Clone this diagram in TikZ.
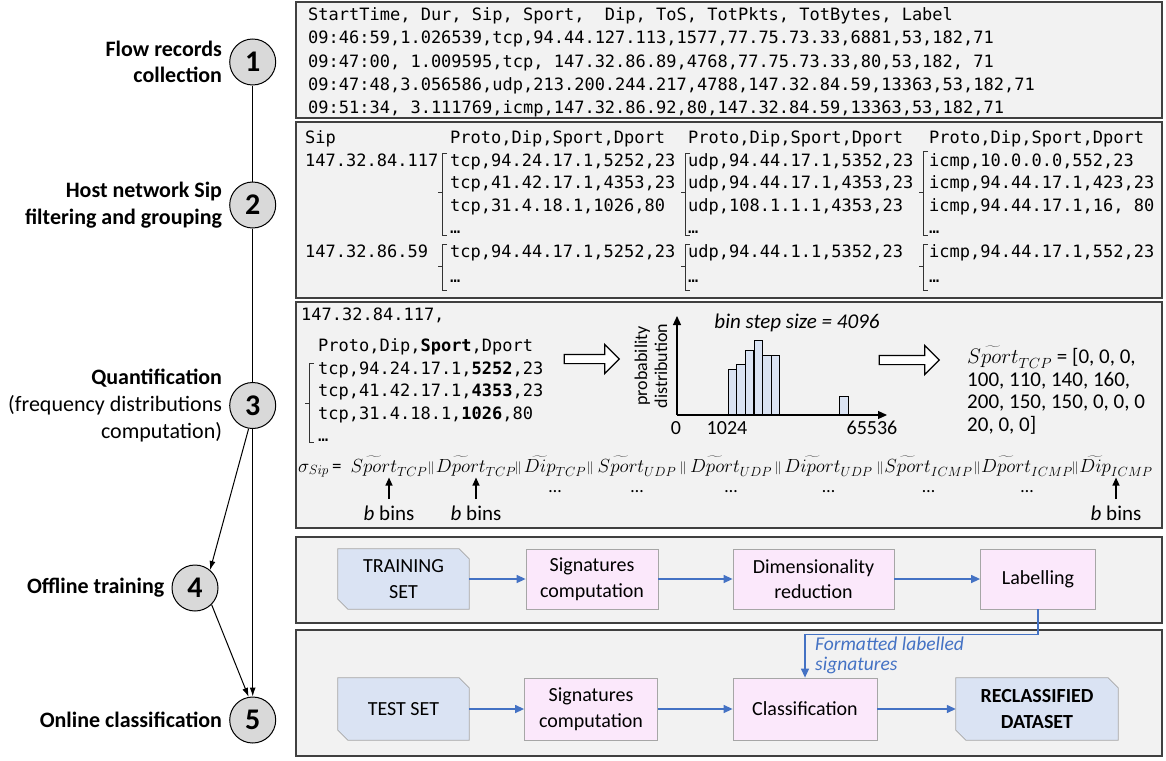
\RequirePackage{fix-cm}
\documentclass[tikz,border=0pt]{standalone}
\usepackage{fontspec}
\setmainfont{Carlito}
\newfontfamily\consfont{DejaVu Sans Mono}
\usetikzlibrary{positioning,arrows.meta,shapes.arrows,calc}
\pgfdeclarelayer{bg}
\pgfsetlayers{bg,main}
\definecolor{panelbg}{HTML}{F2F2F2}
\definecolor{paneledge}{HTML}{404040}
\definecolor{circfill}{HTML}{D9D9D9}
\definecolor{setfill}{HTML}{DAE3F3}
\definecolor{procfill}{HTML}{FBE8FB}
\definecolor{boxedge}{HTML}{A6A6A6}
\definecolor{flowblue}{HTML}{4472C4}
\tikzset{
  panel/.style={draw=paneledge, line width=1.6pt, fill=panelbg},
  stagecirc/.style={circle, draw, line width=1pt, fill=circfill, minimum size=46pt, inner sep=0pt, font=\fontsize{30}{30}\selectfont\bfseries},
  stagelabel/.style={align=right, inner sep=0pt, font=\fontsize{22}{26.7}\selectfont\bfseries},
  stageline/.style={line width=1pt, -{Latex[length=9pt,width=6pt]}},
  mono/.style={font=\consfont\fontsize{17}{20}\selectfont, inner sep=0pt, anchor=base west},
  brk/.style={line width=0.9pt, black!80},
  bar/.style={draw, line width=0.9pt, fill=setfill},
  axis/.style={line width=1.2pt, -{Triangle[length=9pt,width=8pt]}},
  hollow/.style={single arrow, draw, line width=1.2pt, fill=white, inner sep=4pt, single arrow head extend=10pt, minimum height=#1},
  axlab/.style={font=\fontsize{20}{20}\selectfont, inner sep=0pt, anchor=base},
  term/.style={font=\fontsize{19}{20}\selectfont, inner sep=0pt, anchor=base},
  dots/.style={font=\fontsize{18}{18}\selectfont, inner sep=0pt},
  bins/.style={font=\fontsize{21}{22}\selectfont, inner sep=1pt, anchor=base},
  binarrow/.style={line width=1.2pt, shorten <=5pt, shorten >=1pt, -{Triangle[length=8pt,width=7pt]}},
  setbox/.style={minimum width=131pt, align=center, inner sep=0pt, font=\fontsize{20}{25.6}\selectfont},
  procbox/.style={draw=boxedge, fill=procfill, line width=0.8pt, align=center, inner sep=0pt, font=\fontsize{20}{25.6}\selectfont},
  card/.style={draw=boxedge, fill=setfill, line width=0.8pt},
  flow/.style={flowblue, line width=1.3pt, -{Triangle[length=9pt,width=8pt]}},
  fbtext/.style={flowblue, align=left, inner sep=0pt, font=\fontsize{19.5}{20}\selectfont\itshape},
}
\newcommand{\groupbrace}[4]{\draw[brk] ({#1+5},#2) -- (#1,#2) -- (#1,#4) -- ({#1+5},#4) (#1,#3) -- ({#1-4},#3);}

\begin{document}
\begin{tikzpicture}[x=1pt,y=-1pt]
\useasboundingbox (0,0) rectangle (1166,760);

\begin{pgfonlayer}{bg}
  \filldraw[panel] (296,2) rectangle (1162,118);
  \filldraw[panel] (296,122) rectangle (1162,298);
  \filldraw[panel] (296,302) rectangle (1162,528);
  \filldraw[panel] (296,537) rectangle (1162,623);
  \filldraw[panel] (296,630) rectangle (1162,756);
\end{pgfonlayer}

\node[stagecirc] (c1) at (252.7,62) {1};
\node[stagecirc] (c2) at (252.7,205) {2};
\node[stagecirc] (c3) at (252.7,405.5) {3};
\node[stagecirc] (c4) at (195,588) {4};
\node[stagecirc] (c5) at (252.7,720) {5};
\node[stagelabel, left=7pt of c1] (l1) {Flow records\\collection};
\node[stagelabel, left=7pt of c2] (l2) {Host network Sip\\filtering and grouping};
\node[stagelabel, left=7pt of c3, font=\fontsize{22}{26.7}\selectfont] (l3) {\textbf{Quantification}\\(frequency distributions\\computation)};
\node[stagelabel, left=7pt of c4] (l4) {Offline training};
\node[stagelabel, left=7pt of c5] (l5) {Online classification};
\draw[line width=1pt] (c1) -- (c2);
\draw[line width=1pt] (c2) -- (c3);
\draw[stageline] (c3) -- (c5);
\draw[stageline] (c3.260) -- (c4.50);
\draw[stageline] (c4.-45) -- (c5.100);

\foreach \t [count=\i] in {{StartTime, Dur, Sip, Sport,~ Dip, ToS, TotPkts, TotBytes, Label},
  {09:46:59,1.026539,tcp,94.44.127.113,1577,77.75.73.33,6881,53,182,71},
  {09:47:00, 1.009595,tcp, 147.32.86.89,4768,77.75.73.33,80,53,182, 71},
  {09:47:48,3.056586,udp,213.200.244.217,4788,147.32.84.59,13363,53,182,71},
  {09:51:34, 3.111769,icmp,147.32.86.92,80,147.32.84.59,13363,53,182,71}}
  \node[mono] (rec\i) at (308,{21+23*(\i-1)}) {\t};

\node[mono] (siphd) at (305,143) {Sip};
\node[mono] (sip1) at (305,166) {147.32.84.117};
\node[mono] (sip2) at (305,257) {147.32.86.59};
\node[mono] (tcphd) at (450,143) {Proto,Dip,Sport,Dport};
\node[mono] (tcp1) at (450,166) {tcp,94.24.17.1,5252,23};
\node[mono] (tcp2) at (450,188.5) {tcp,41.42.17.1,4353,23};
\node[mono] (tcp3) at (450,211) {tcp,31.4.18.1,1026,80};
\node[mono] (tcp4) at (450,233) {…};
\node[mono] (tcp5) at (450,257) {tcp,94.44.17.1,5252,23};
\node[mono] (tcp6) at (450,282) {…};
\node[mono] (udphd) at (688,143) {Proto,Dip,Sport,Dport};
\node[mono] (udp1) at (688,166) {udp,94.44.17.1,5352,23};
\node[mono] (udp2) at (688,188.5) {udp,94.44.17.1,4353,23};
\node[mono] (udp3) at (688,211) {udp,108.1.1.1,4353,23};
\node[mono] (udp4) at (688,233) {…};
\node[mono] (udp5) at (688,257) {udp,94.44.1.1,5352,23};
\node[mono] (udp6) at (688,282) {…};
\node[mono] (icmphd) at (929,143) {Proto,Dip,Sport,Dport};
\node[mono] (icmp1) at (929,166) {icmp,10.0.0.0,552,23};
\node[mono] (icmp2) at (929,188.5) {icmp,94.44.17.1,423,23};
\node[mono] (icmp3) at (929,211) {icmp,94.44.17.1,16, 80};
\node[mono] (icmp4) at (929,233) {…};
\node[mono] (icmp5) at (929,257) {icmp,94.44.17.1,552,23};
\node[mono] (icmp6) at (929,282) {…};
\groupbrace{442}{153}{192}{235}
\groupbrace{442}{244}{266}{290}
\groupbrace{685}{153}{192}{235}
\groupbrace{685}{244}{266}{290}
\groupbrace{923}{151}{192}{235}
\groupbrace{923}{244}{266}{290}

\node[mono] (qsip) at (301,320) {147.32.84.117,};
\node[mono] (qhd) at (318,351) {Proto,Dip,\textbf{Sport},Dport};
\node[mono] (q1) at (318,374) {tcp,94.24.17.1,\textbf{5252},23};
\node[mono] (q2) at (318,396.5) {tcp,41.42.17.1,\textbf{4353},23};
\node[mono] (q3) at (318,419) {tcp,31.4.18.1,\textbf{1026},80};
\node[mono] (q4) at (318,441.5) {…};
\groupbrace{309}{363}{403}{442}

\node[hollow=55pt] (qa1) at (589.5,359) {};
\foreach \x/\h in {728.3/369,736.7/364.3,745/350.7,754/340,762.7/355.7,771/355.7,839.3/396.7}
  \draw[bar] (\x,415) rectangle ({\x+8.7},\h);
\coordinate (o) at (677,415);
\draw[axis] (o) -- (677,316);
\draw[axis] (o) -- (887,415);
\node[axlab] (x0) at (676,434) {0};
\node[axlab] (x1) at (727,434) {1024};
\node[axlab] (x2) at (872,434) {65536};
\node[rotate=90, align=center, inner sep=0pt, font=\fontsize{18}{20}\selectfont] (ylab) at (651,366) {probability\\distribution};
\node[font=\fontsize{21}{22}\selectfont\itshape, inner sep=0pt] (step) at (797,323) {bin step size = 4096};
\node[hollow=60pt] (qa2) at (907,360) {};
\node[anchor=west, align=left, inner sep=0pt, font=\fontsize{21}{22.5}\selectfont] (vec) at (967,390)
  {$\widetilde{Sport}_{TCP}$ = [0, 0, 0,\\100, 110, 140, 160,\\200, 150, 150, 0, 0, 0\\20, 0, 0]};

\node[term, anchor=base west] (sig) at (298,472) {$\sigma_{Sip}$\,=};
\foreach \x/\w/\s [count=\i] in {389/Sport/TCP,476/Dport/TCP,555/Dip/TCP,637/Sport/UDP,731/Dport/UDP,828.5/Diport/UDP,928.5/Sport/ICMP,1027/Dport/ICMP,1116/Dip/ICMP}
  \node[term] (t\i) at (\x,472) {$\widetilde{\w}_{\s}$};
\foreach \x in {431,518,590,683,778,880,977,1075}
  \node[term, font=\fontsize{13}{13}\selectfont] at (\x,471) {$\|$};
\coordinate (dotrow) at (0,492);
\foreach \i in {3,...,8}
  \node[dots] (d\i) at (t\i |- dotrow) {…};
\coordinate (binrow) at (0,520);
\node[bins] (b1) at (t1 |- binrow) {\textit{b} bins};
\node[bins] (b2) at (t2 |- binrow) {\textit{b} bins};
\node[bins] (b9) at (t9 |- binrow) {\textit{b} bins};
\draw[binarrow] (b1) -- (t1);
\draw[binarrow] (b2) -- (t2);
\draw[binarrow] (b9) -- (t9);

\node[setbox, minimum height=60pt] (ts) at (403.5,579) {TRAINING\\SET};
\node[procbox, minimum width=132pt, minimum height=60pt] (sc1) at (592,579) {Signatures\\computation};
\node[procbox, minimum width=161pt, minimum height=60pt] (dr) at (813.5,579) {Dimensionality\\reduction};
\node[procbox, minimum width=115pt, minimum height=60pt] (lab) at (1038,579) {Labelling};
\node[setbox, minimum height=62pt] (tst) at (403.5,709) {TEST SET};
\node[procbox, minimum width=133pt, minimum height=62pt] (sc2) at (591,709) {Signatures\\computation};
\node[procbox, minimum width=144pt, minimum height=62pt] (cls) at (805,709) {Classification};
\node[setbox, minimum width=162pt, minimum height=62pt, font=\fontsize{20}{25.6}\selectfont\bfseries] (rd) at (1037,709) {RECLASSIFIED\\DATASET};
\begin{pgfonlayer}{bg}
  \foreach \n in {ts,tst,rd}
    \filldraw[card] (\n.north west) -- ([xshift=-10pt]\n.north east) -- ([yshift=-10pt]\n.north east) -- (\n.south east) -- ([xshift=10pt]\n.south west) -- ([yshift=10pt]\n.south west) -- cycle;
\end{pgfonlayer}
\draw[flow] (ts) -- (sc1);
\draw[flow] (sc1) -- (dr);
\draw[flow] (dr) -- (lab);
\draw[flow] (tst) -- (sc2);
\draw[flow] (sc2) -- (cls);
\draw[flow] (cls) -- (rd);
\draw[flow] (lab.south) -- ++(0,25) -| (cls.north);
\node[fbtext, anchor=west] (fb) at (815,655) {Formatted labelled\\signatures};
\end{tikzpicture}
\end{document}
